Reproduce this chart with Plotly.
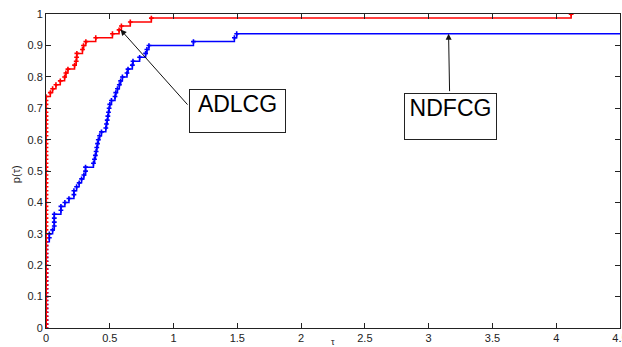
import plotly.graph_objects as go

# ---- data: performance profile (80 problems) ----
n_problems = 80

# ADLCG: problems solved at ratio tau = 0, then sorted remaining ratios
adlcg_zero_count = 59
adlcg_tau = [0.034, 0.052, 0.078, 0.112, 0.146, 0.156, 0.172, 0.224, 0.237,
             0.240, 0.242, 0.286, 0.294, 0.3125, 0.390, 0.521, 0.573, 0.591,
             0.661, 0.826, 4.117]

# NDFCG
ndfcg_zero_count = 22
ndfcg_tau = [0.026, 0.026, 0.052, 0.065, 0.065, 0.065, 0.065, 0.117, 0.117,
             0.148, 0.180, 0.219, 0.219, 0.240, 0.260, 0.279, 0.297, 0.310,
             0.310, 0.372, 0.380, 0.387, 0.393, 0.398, 0.404, 0.410, 0.420,
             0.435, 0.469, 0.474, 0.480, 0.485, 0.490, 0.495, 0.500, 0.513,
             0.541, 0.547, 0.560, 0.575, 0.585, 0.599, 0.635, 0.643, 0.677,
             0.682, 0.734, 0.781, 0.791, 0.807, 1.156, 1.477, 1.495]
ndfcg_tail_tau = 4.6   # horizontal continuation to the edge

x_ticks = [0, 0.5, 1, 1.5, 2, 2.5, 3, 3.5, 4, 4.5]
x_tick_text = ["0", "0.5", "1", "1.5", "2", "2.5", "3", "3.5", "4", "4.5"]
y_ticks = [0, 0.1, 0.2, 0.3, 0.4, 0.5, 0.6, 0.7, 0.8, 0.9, 1]
y_tick_text = ["0", "0.1", "0.2", "0.3", "0.4", "0.5", "0.6", "0.7", "0.8", "0.9", "1"]


def profile(zero_count, taus):
    xs = [0.0] + [0.0] * zero_count + list(taus)
    ys = [0.0] + [(i + 1) / n_problems for i in range(zero_count + len(taus))]
    return xs, ys


bx, by = profile(ndfcg_zero_count, ndfcg_tau)
rx, ry = profile(adlcg_zero_count, adlcg_tau)

fig = go.Figure()

fig.add_trace(go.Scatter(
    x=bx + [ndfcg_tail_tau], y=by + [by[-1]], mode="lines",
    line=dict(color="#0000ff", width=1.5, shape="hv"), showlegend=False,
    hoverinfo="skip"))
fig.add_trace(go.Scatter(
    x=bx, y=by, mode="markers",
    marker=dict(color="#0000ff", symbol="cross", size=4, line=dict(width=0)),
    showlegend=False, name="NDFCG"))

fig.add_trace(go.Scatter(
    x=rx, y=ry, mode="lines+markers",
    line=dict(color="#ff0000", width=1.5, shape="hv"),
    marker=dict(color="#ff0000", symbol="cross", size=4, line=dict(width=0)),
    showlegend=False, name="ADLCG"))

font_family = "Liberation Sans, Arial, sans-serif"

# arrows (drawn separately so their tails land where the reference has them)
fig.add_annotation(x=0.584, y=0.951, ax=1.12, ay=0.707, xref="x", yref="y",
                   axref="x", ayref="y", text="", showarrow=True,
                   arrowhead=2, arrowsize=1.2, arrowwidth=1, arrowcolor="#111")
fig.add_annotation(x=3.156, y=0.9375, ax=3.164, ay=0.75, xref="x", yref="y",
                   axref="x", ayref="y", text="", showarrow=True,
                   arrowhead=2, arrowsize=1.2, arrowwidth=1, arrowcolor="#111")

# text boxes
fig.add_annotation(x=1.498, y=0.6916, xref="x", yref="y", text="ADLCG",
                   showarrow=False, font=dict(family=font_family, size=23, color="#000"),
                   bordercolor="#222", borderwidth=1, borderpad=1, bgcolor="white",
                   width=93, height=40, valign="top", align="center")
fig.add_annotation(x=3.174, y=0.675, xref="x", yref="y", text="NDFCG",
                   showarrow=False, font=dict(family=font_family, size=23, color="#000"),
                   bordercolor="#222", borderwidth=1, borderpad=1, bgcolor="white",
                   width=89, height=43, valign="top", align="center")

# axis titles placed as annotations (small, tight like the reference)
fig.add_annotation(x=0.5, y=-14/314, xref="paper", yref="paper", text="τ",
                   showarrow=False, font=dict(family=font_family, size=9, color="#222"),
                   xanchor="center", yanchor="middle")
fig.add_annotation(x=-30/574, y=0.49, xref="paper", yref="paper", text="p(τ)",
                   showarrow=False, textangle=-90,
                   font=dict(family=font_family, size=11, color="#222"),
                   xanchor="center", yanchor="middle")

fig.update_layout(
    width=622, height=347,
    margin=dict(l=46, r=2, t=14, b=19),
    paper_bgcolor="white", plot_bgcolor="white",
    font=dict(family=font_family, size=11, color="#222"),
    xaxis=dict(range=[0, 4.5], tickvals=x_ticks, ticktext=x_tick_text,
               ticks="inside", ticklen=5, automargin=False,
               ticklabeloverflow="allow",
               tickcolor="#222", showline=True, linecolor="#222", linewidth=1,
               mirror="ticks", showgrid=False, zeroline=False),
    yaxis=dict(range=[0, 1.0005], tickvals=y_ticks, ticktext=y_tick_text,
               ticks="inside", ticklen=5, tickcolor="#222", showline=True,
               automargin=False, ticklabeloverflow="allow",
               linecolor="#222", linewidth=1, mirror="ticks", showgrid=False,
               zeroline=False),
)

fig.write_html(
    "out.html",
    config={"displayModeBar": False},
    post_script="document.body.style.margin='0';document.body.style.overflow='hidden';",
)
